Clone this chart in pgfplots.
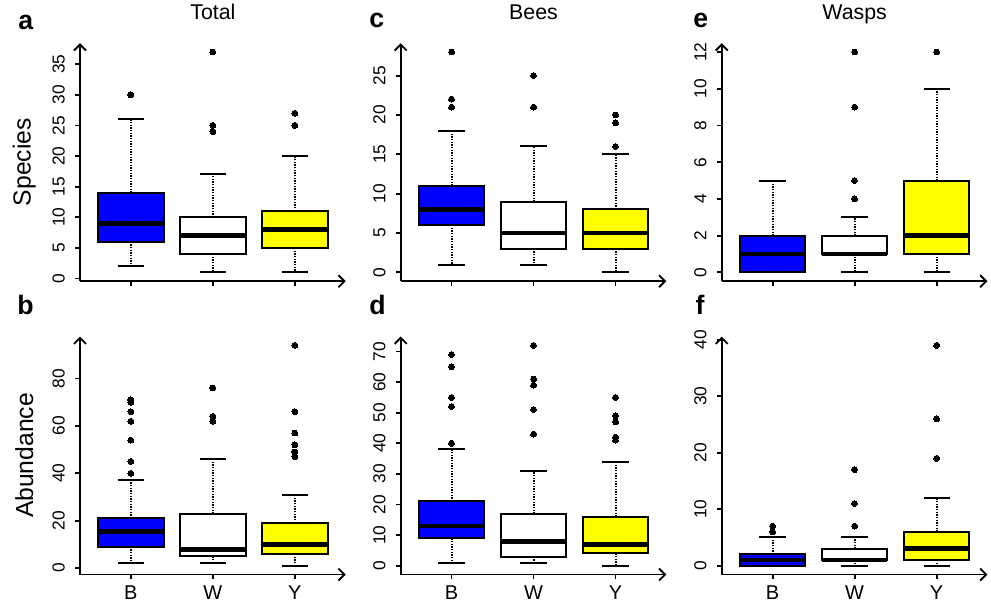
\documentclass[border=0pt]{standalone}
\usepackage{pgfplots}
\pgfplotsset{compat=1.18}
\usepgfplotslibrary{statistics}
\usetikzlibrary{arrows.meta}
\usepackage{fontspec}
\setmainfont{Liberation Sans}

\definecolor{rblue}{RGB}{0,0,255}
\definecolor{ryellow}{RGB}{255,255,0}

\pgfplotsset{
  panel/.style={
    scale only axis, width=199.3pt, height=178.5pt,
    anchor=south west,
    axis lines=left,
    axis line style={line width=1.4pt, -{Straight Barb[length=4.5pt,width=9pt]}},
    xmin=0.38, xmax=3.62,
    xtick={1,2,3},
    xticklabels={},
    tick align=outside,
    major tick length=3.5pt,
    tick style={black, line width=1.4pt},
    /pgf/number format/assume math mode=true,
    yticklabel style={rotate=90, anchor=base, inner sep=0pt, font=\fontsize{13}{15}\selectfont},
    xticklabel style={anchor=north, inner sep=0pt, font=\fontsize{15}{17}\selectfont},
    yticklabel shift=8pt,
    xticklabel shift=4.6pt,
    clip=false,
    title style={at={(0.5,1.064)}, anchor=base, font=\fontsize{16}{19}\selectfont},
    ylabel style={at={(axis description cs:-0.21,0.5)}, anchor=center, font=\fontsize{18.5}{22}\selectfont},
    boxplot/draw direction=y,
    boxplot/box extend=0.8,
    boxplot/whisker extend=0.32,
    boxplot/every median/.style={line width=3.6pt},
    boxplot/every box/.style={line width=1.5pt},
  },
  bx/.style={draw=black, line width=1.5pt, mark=*, mark size=2.2pt,
    mark options={solid, fill=black, draw=black, line width=0pt}},
  boxplot/draw/lower whisker/.code={%
    \draw[line width=1.5pt, dash pattern=on 1pt off 1pt, fill=none]
      (boxplot box cs:\pgfplotsboxplotvalue{lower quartile},0.5)
      -- (boxplot box cs:\pgfplotsboxplotvalue{lower whisker},0.5);
    \draw[line width=1.5pt, solid, fill=none]
      (boxplot whisker cs:\pgfplotsboxplotvalue{lower whisker},0)
      -- (boxplot whisker cs:\pgfplotsboxplotvalue{lower whisker},1);
  },
  boxplot/draw/upper whisker/.code={%
    \draw[line width=1.5pt, dash pattern=on 1pt off 1pt, fill=none]
      (boxplot box cs:\pgfplotsboxplotvalue{upper quartile},0.5)
      -- (boxplot box cs:\pgfplotsboxplotvalue{upper whisker},0.5);
    \draw[line width=1.5pt, solid, fill=none]
      (boxplot whisker cs:\pgfplotsboxplotvalue{upper whisker},0)
      -- (boxplot whisker cs:\pgfplotsboxplotvalue{upper whisker},1);
  },
}

\begin{document}
\begin{tikzpicture}
\path[use as bounding box] (0,0) rectangle (743.25pt,451.5pt);

% ---------- a: Total species
\begin{axis}[panel, at={(60pt,240.6pt)}, ymin=-0.44, ymax=38.44,
  ytick={0,5,...,35}, title={Total}, ylabel={Species}]
\addplot[bx, fill=rblue, boxplot prepared={draw position=1, lower whisker=2, lower quartile=6, median=9, upper quartile=14, upper whisker=26}] coordinates {(0,30)};
\addplot[bx, fill=white, boxplot prepared={draw position=2, lower whisker=1, lower quartile=4, median=7, upper quartile=10, upper whisker=17}] coordinates {(0,24) (0,25) (0,37)};
\addplot[bx, fill=ryellow, boxplot prepared={draw position=3, lower whisker=1, lower quartile=5, median=8, upper quartile=11, upper whisker=20}] coordinates {(0,25) (0,27)};
\end{axis}

% ---------- c: Bees species
\begin{axis}[panel, at={(300.5pt,240.6pt)}, ymin=-1.12, ymax=29.12,
  ytick={0,5,...,25}, title={Bees}]
\addplot[bx, fill=rblue, boxplot prepared={draw position=1, lower whisker=1, lower quartile=6, median=8, upper quartile=11, upper whisker=18}] coordinates {(0,21) (0,22) (0,28)};
\addplot[bx, fill=white, boxplot prepared={draw position=2, lower whisker=1, lower quartile=3, median=5, upper quartile=9, upper whisker=16}] coordinates {(0,21) (0,25)};
\addplot[bx, fill=ryellow, boxplot prepared={draw position=3, lower whisker=0, lower quartile=3, median=5, upper quartile=8, upper whisker=15}] coordinates {(0,16) (0,19) (0,20)};
\end{axis}

% ---------- e: Wasps species
\begin{axis}[panel, at={(541.3pt,240.6pt)}, ymin=-0.48, ymax=12.48,
  ytick={0,2,...,12}, title={Wasps}]
\addplot[bx, fill=rblue, boxplot prepared={draw position=1, lower whisker=0, lower quartile=0, median=1, upper quartile=2, upper whisker=5}] coordinates {};
\addplot[bx, fill=white, boxplot prepared={draw position=2, lower whisker=0, lower quartile=1, median=1, upper quartile=2, upper whisker=3}] coordinates {(0,4) (0,5) (0,9) (0,12)};
\addplot[bx, fill=ryellow, boxplot prepared={draw position=3, lower whisker=0, lower quartile=1, median=2, upper quartile=5, upper whisker=10}] coordinates {(0,12)};
\end{axis}

% ---------- b: Total abundance
\begin{axis}[panel, at={(60pt,20.6pt)}, ymin=-2.72, ymax=97.72,
  ytick={0,20,...,80}, xticklabels={B,W,Y}, ylabel={Abundance}]
\addplot[bx, fill=rblue, boxplot prepared={draw position=1, lower whisker=2, lower quartile=9, median=15.5, upper quartile=21, upper whisker=37}] coordinates {(0,40) (0,45) (0,54) (0,62) (0,66) (0,70) (0,71)};
\addplot[bx, fill=white, boxplot prepared={draw position=2, lower whisker=2, lower quartile=5, median=8, upper quartile=23, upper whisker=46}] coordinates {(0,62) (0,64) (0,76)};
\addplot[bx, fill=ryellow, boxplot prepared={draw position=3, lower whisker=1, lower quartile=6, median=10, upper quartile=19, upper whisker=31}] coordinates {(0,47) (0,49) (0,52) (0,57) (0,66) (0,94)};
\end{axis}

% ---------- d: Bees abundance
\begin{axis}[panel, at={(300.5pt,20.6pt)}, ymin=-2.88, ymax=74.88,
  ytick={0,10,...,70}, xticklabels={B,W,Y}]
\addplot[bx, fill=rblue, boxplot prepared={draw position=1, lower whisker=1, lower quartile=9, median=13, upper quartile=21, upper whisker=38}] coordinates {(0,40) (0,52) (0,55) (0,65) (0,69)};
\addplot[bx, fill=white, boxplot prepared={draw position=2, lower whisker=1, lower quartile=3, median=8, upper quartile=17, upper whisker=31}] coordinates {(0,43) (0,51) (0,59) (0,61) (0,72)};
\addplot[bx, fill=ryellow, boxplot prepared={draw position=3, lower whisker=0, lower quartile=4, median=7, upper quartile=16, upper whisker=34}] coordinates {(0,41) (0,42) (0,47) (0,49) (0,55)};
\end{axis}

% ---------- f: Wasps abundance
\begin{axis}[panel, at={(541.3pt,20.6pt)}, ymin=-1.56, ymax=40.56,
  ytick={0,10,...,40}, xticklabels={B,W,Y}]
\addplot[bx, fill=rblue, boxplot prepared={draw position=1, lower whisker=0, lower quartile=0, median=1, upper quartile=2, upper whisker=5}] coordinates {(0,6) (0,7)};
\addplot[bx, fill=white, boxplot prepared={draw position=2, lower whisker=0, lower quartile=1, median=1, upper quartile=3, upper whisker=5}] coordinates {(0,7) (0,11) (0,17)};
\addplot[bx, fill=ryellow, boxplot prepared={draw position=3, lower whisker=0, lower quartile=1, median=3, upper quartile=6, upper whisker=12}] coordinates {(0,19) (0,26) (0,39)};
\end{axis}

% panel letters
\begin{scope}[every node/.style={anchor=base west, inner sep=0pt, font=\bfseries\fontsize{20}{24}\selectfont}]
\node at (13.5pt,429pt) {a};
\node at (276.75pt,430.5pt) {c};
\node at (519.75pt,430.5pt) {e};
\node at (12.75pt,215.25pt) {b};
\node at (276.75pt,215.25pt) {d};
\node at (521.5pt,215.25pt) {f};
\end{scope}
\end{tikzpicture}
\end{document}
